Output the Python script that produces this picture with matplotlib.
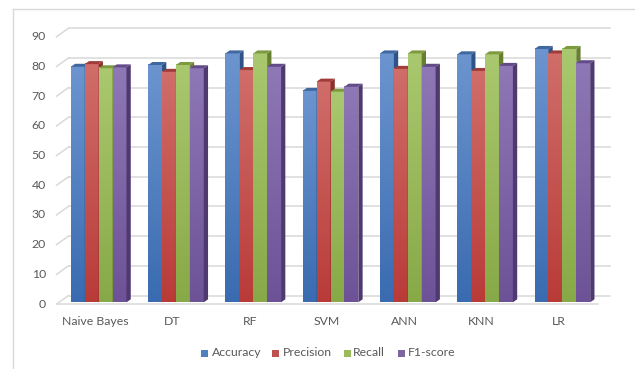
import numpy as np
import matplotlib
matplotlib.use("Agg")
import matplotlib.pyplot as plt
from matplotlib.patches import Polygon, Rectangle
from matplotlib.lines import Line2D
from matplotlib.colors import LinearSegmentedColormap
import matplotlib.transforms as mtransforms

# ---- data -------------------------------------------------------------
categories = ["Naive Bayes", "DT", "RF", "SVM", "ANN", "KNN", "LR"]
series_names = ["Accuracy", "Precision", "Recall", "F1-score"]
accuracy = [79.3, 79.9, 83.8, 71.2, 83.8, 83.5, 85.3]
precision = [80.2, 77.6, 78.2, 74.3, 78.6, 77.9, 83.8]
recall = [78.8, 79.9, 83.8, 70.9, 83.8, 83.5, 85.3]
f1_score = [79.1, 78.8, 79.3, 72.6, 79.3, 79.6, 80.5]
y_ticks = [0, 10, 20, 30, 40, 50, 60, 70, 80, 90]

series_values = [accuracy, precision, recall, f1_score]

# ---- style ------------------------------------------------------------
legend_colors = ["#4f81bd", "#c0504d", "#9bbb59", "#8064a2"]
face_top = ["#6c95cf", "#d06e6a", "#aac86f", "#8f78b6"]
face_bottom = ["#3a6bb0", "#b93b38", "#88a947", "#6d5297"]
side_colors = ["#2f5388", "#8b2f2d", "#66802f", "#4f3a70"]
cap_colors = ["#40679f", "#a03c39", "#7d9a40", "#634a88"]
text_color = "#595959"
grid_color = "#d9d9d9"
font = ["Lato", "DejaVu Sans"]
fsize = 8.8

W, H, DPI = 635, 369, 100
fig = plt.figure(figsize=(W / DPI, H / DPI), dpi=DPI)
fig.patch.set_facecolor("white")

# plot plane of the column fronts (pixel layout)
left_px, right_px, zero_px, top_px = 60, 601, 302.3, 35.0
ax = fig.add_axes([left_px / W, (H - zero_px) / H,
                   (right_px - left_px) / W, (zero_px - top_px) / H])
n_cat = len(categories)
ax.set_xlim(0, n_cat)
ax.set_ylim(0, 90)
ax.set_autoscale_on(False)
ax.axis("off")

ident = mtransforms.IdentityTransform()
back_dx, back_dy = 8.5, 6.8       # back wall offset (display px)
front_dx, front_dy = -3.5, -1.8   # floor front edge offset
depth_dx, depth_dy = 4.3, 3.0     # column depth


def disp(x, y):
    return ax.transData.transform((x, y))


# back wall gridlines with the left diagonal edge
for v in y_ticks:
    x0, y0 = disp(0, v)
    x1, y1 = disp(n_cat, v)
    ax.add_line(Line2D([x0 + back_dx, x1 + back_dx], [y0 + back_dy, y1 + back_dy],
                       transform=ident, color=grid_color, lw=1.1, clip_on=False, zorder=0))
    ax.add_line(Line2D([x0 + front_dx, x0 + back_dx], [y0 + front_dy, y0 + back_dy],
                       transform=ident, color=grid_color, lw=1.1, clip_on=False, zorder=0))
    ax.text(0, v, str(v), transform=ax.transData + mtransforms.ScaledTranslation(
        -14 / DPI, front_dy / DPI, fig.dpi_scale_trans),
        ha="right", va="center", fontsize=fsize, color=text_color, family=font)

# floor front edge
x0, y0 = disp(0, 0)
x1, y1 = disp(n_cat, 0)
ax.add_line(Line2D([x0 + front_dx, x1 + front_dx], [y0 + front_dy, y1 + front_dy],
                   transform=ident, color=grid_color, lw=1.1, clip_on=False, zorder=0))

# category labels, centred on the floor front edge slots
for i, name in enumerate(categories):
    ax.text(i + 0.5, 0, name, transform=ax.transData + mtransforms.ScaledTranslation(
        front_dx / DPI, -13.5 / DPI, fig.dpi_scale_trans),
        ha="center", va="top", fontsize=fsize, color=text_color, family=font)

# columns
n_ser = len(series_values)
bar_w = 0.18
cmaps = [LinearSegmentedColormap.from_list(f"g{s}", [face_bottom[s], face_top[s]])
         for s in range(n_ser)]
grad = np.linspace(0, 1, 256).reshape(-1, 1)
z = 2.0
for i in range(n_cat):
    g0 = i + 0.5 - bar_w * n_ser / 2
    for s in range(n_ser):
        h = series_values[s][i]
        bx0, bx1 = g0 + s * bar_w, g0 + (s + 1) * bar_w
        # front face with vertical gradient
        ax.imshow(grad, extent=(bx0, bx1, 0, h), origin="lower", aspect="auto",
                  cmap=cmaps[s], interpolation="bilinear", zorder=z)
        (px0, py0), (px1, py1) = disp(bx0, 0), disp(bx1, h)
        side = [(px1, py0), (px1, py1), (px1 + depth_dx, py1 + depth_dy),
                (px1 + depth_dx, py0 + depth_dy)]
        cap = [(px0, py1), (px1, py1), (px1 + depth_dx, py1 + depth_dy),
               (px0 + depth_dx, py1 + depth_dy)]
        ax.add_patch(Polygon(side, closed=True, transform=ident, facecolor=side_colors[s],
                             edgecolor="none", clip_on=False, zorder=z + 0.001))
        ax.add_patch(Polygon(cap, closed=True, transform=ident, facecolor=cap_colors[s],
                             edgecolor="none", clip_on=False, zorder=z + 0.002))
        z += 0.01

# legend
leg_box_x = [201, 272, 344, 398]
leg_text_x = [212, 283, 353, 408]
leg_y = 353
for s in range(n_ser):
    fig.add_artist(Rectangle((leg_box_x[s] / W, (H - leg_y - 3.5) / H), 7 / W, 7 / H,
                             transform=fig.transFigure, facecolor=legend_colors[s],
                             edgecolor="none"))
    fig.text(leg_text_x[s] / W, (H - leg_y) / H, series_names[s], ha="left",
             va="center", fontsize=fsize, color=text_color, family=font)

# chart frame
fig.add_artist(Line2D([13 / W, 13 / W], [0, (H - 9) / H], transform=fig.transFigure,
                      color=grid_color, lw=1.0))
fig.add_artist(Line2D([13 / W, 1], [(H - 9) / H, (H - 9) / H], transform=fig.transFigure,
                      color=grid_color, lw=1.0))

fig.savefig("out.png", dpi=DPI, facecolor="white")
